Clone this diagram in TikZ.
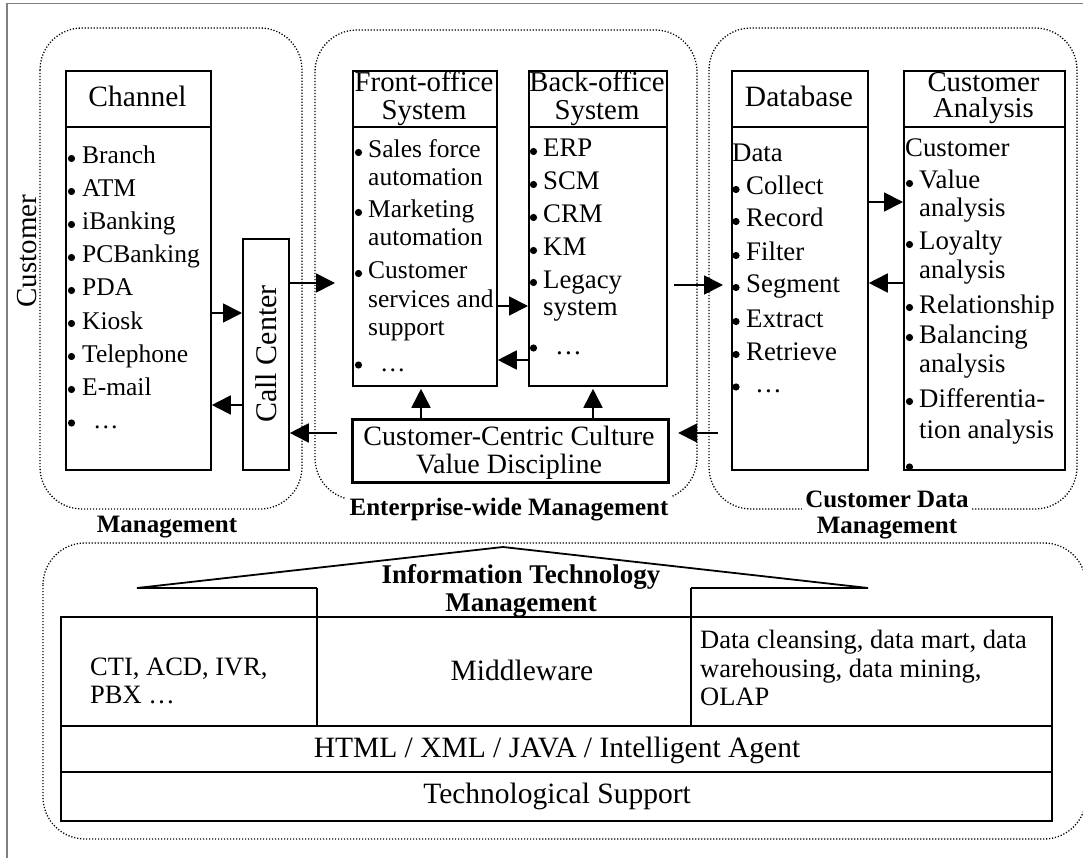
\documentclass[tikz,border=0pt]{standalone}
\usepackage{fontspec}
\setmainfont{Liberation Serif}
\usetikzlibrary{arrows.meta,calc}
\newcounter{tln}
\newcommand\mytl[4][itA]{\stepcounter{tln}\node[#1] (tl\arabic{tln}) at (#2,#3) {#4};}
\newcommand\mybu[2]{\fill (#1,#2) circle (3.6pt);}
\begin{document}
\begin{tikzpicture}[x=1pt,y=-1pt,
 box/.style={draw, line width=1.8pt, inner sep=0pt, anchor=north west},
 dotbox/.style={draw, line width=1.3pt, dash pattern=on 1.2pt off 1.8pt, rounded corners=42pt},
 arr/.style={line width=1.8pt, -{Triangle[length=19pt,width=19pt]}},
 itA/.style={anchor=base west, inner sep=0pt, font=\fontsize{25.5}{30}\selectfont},
 itB/.style={anchor=base west, inner sep=0pt, font=\fontsize{26.8}{30}\selectfont},
 hd/.style={anchor=base, inner sep=0pt, font=\fontsize{29.5}{30}\selectfont},
 hdb/.style={anchor=base, inner sep=0pt, font=\fontsize{28.8}{30}\selectfont},
 lab/.style={anchor=base, inner sep=3pt, fill=white, font=\bfseries\fontsize{25}{26}\selectfont},
 cell/.style={anchor=base west, inner sep=0pt, font=\fontsize{26.5}{28}\selectfont},
 row/.style={anchor=base, inner sep=0pt, font=\fontsize{29.5}{30}\selectfont},
 frame/.style={draw=black!50, line width=1.8pt}]
\useasboundingbox (0,0) rectangle (1083,858);
% frame
\draw[frame] (7,858) -- (7,3.5) -- (1083,3.5);
% dotted groups
\draw[dotbox] (40,28) rectangle (302,509);
\draw[dotbox] (315,30) rectangle (697,500);
\draw[dotbox] (709,28) rectangle (1077,509);
\draw[dotbox] (43,543) rectangle (1086,839);
\coordinate (rbx) at (718,433);
% boxes
\node[box, minimum width=145pt, minimum height=399pt] (ch) at (65,70) {};
\node[box, minimum width=46pt, minimum height=231pt] (cc) at (242,238) {};
\node[box, minimum width=144pt, minimum height=315pt] (fo) at (352,70) {};
\node[box, minimum width=138pt, minimum height=315pt] (bo) at (528,70) {};
\node[box, line width=3.2pt, minimum width=316pt, minimum height=63pt] (cul) at (351,418) {};
\node[box, minimum width=136pt, minimum height=399pt] (db) at (731,70) {};
\node[box, minimum width=161pt, minimum height=399pt] (ca) at (903,70) {};
\foreach \b in {ch,fo,bo,db,ca}
  \draw[line width=1.8pt] (\b.north west |- 0,127) -- (\b.north east |- 0,127);
% headers
\node[hd] (hch) at (137.5,107) {Channel};
\node[hdb] (hfo1) at (424,92) {Front-office};
\node[hdb] (hfo2) at (424,120) {System};
\node[hdb] (hbo1) at (597,92) {Back-office};
\node[hdb] (hbo2) at (597,120) {System};
\node[hd] (hdb) at (799,107) {Database};
\node[hdb] (hca1) at (983.5,92) {Customer};
\node[hdb] (hca2) at (983.5,118) {Analysis};
\node[inner sep=0pt, rotate=90, font=\fontsize{30}{30}\selectfont] (cct) at (cc.center |- 0,354) {Call Center};
\node[inner sep=0pt, rotate=90, font=\fontsize{29}{30}\selectfont] (cust) at (27,251) {Customer};
% Channel list
\foreach \t/\y in {Branch/164,ATM/197,iBanking/230,PCBanking/263,PDA/296,Kiosk/329,Telephone/362,E-mail/395}{
  \mybu{71.5}{\y-5.5}
  \node[itA] (c\y) at (82,\y) {\t};}
\mybu{71.5}{423}
\mytl{93}{428}{\ldots}
% Front-office list
\mybu{358.5}{152.5}\mytl{368}{158}{Sales force}
\mytl{368}{186}{automation}
\mybu{358.5}{212.5}\mytl{368}{218}{Marketing}
\mytl{368}{246}{automation}
\mybu{358.5}{273.5}\mytl{368}{279}{Customer}
\mytl{368}{307}{services and}
\mytl{368}{335}{support}
\mybu{358.5}{365}\mytl{380}{371}{\ldots}
% Back-office list
\foreach \t/\y in {ERP/157,SCM/190,CRM/223,KM/256,Legacy/288}{
  \mybu{533.5}{\y-5.5}
  \node[itB] (b\y) at (543,\y) {\t};}
\mytl[itB]{543}{316}{system}
\mybu{533.5}{348}\mytl[itB]{555}{354}{\ldots}
% Database list
\mytl[itB]{732}{162}{Data}
\foreach \t/\y in {Collect/195,Record/227,Filter/261,Segment/293,Extract/327,Retrieve/360}{
  \mybu{736}{\y-5.5}
  \node[itB] (d\y) at (746,\y) {\t};}
\mybu{736}{387}\mytl[itB]{755}{392}{\ldots}
% Customer analysis list
\mytl[itB]{905}{157}{Customer}
\mybu{909.5}{183.5}\mytl[itB]{919}{189}{Value}
\mytl[itB]{919}{217}{analysis}
\mybu{909.5}{244.5}\mytl[itB]{919}{250}{Loyalty}
\mytl[itB]{919}{279}{analysis}
\mybu{909.5}{307.5}\mytl[itB]{919}{313}{Relationship}
\mybu{909.5}{337.5}\mytl[itB]{919}{343}{Balancing}
\mytl[itB]{919}{372}{analysis}
\mybu{909.5}{401.5}\mytl[itB]{919}{407}{Differentia-}
\mytl[itB]{919}{438}{tion analysis}
\begin{scope}
  \clip (903,440) rectangle (1064,469);
  \fill (909.5,467) circle (3.6pt);
\end{scope}
% culture text
\node[anchor=base, inner sep=0pt, font=\fontsize{28}{28}\selectfont] (cu1) at (509,445) {Customer-Centric Culture};
\node[anchor=base, inner sep=0pt, font=\fontsize{28}{28}\selectfont] (cu2) at (509,473) {Value Discipline};
% group labels
\node[lab, inner xsep=4pt] (lent) at (509,515) {Enterprise-wide Management};
\node[lab] (lcm) at (167,532) {Management};
\node[lab] (lcd1) at (887,507) {Customer Data};
\node[lab, fill=none] (lcd2) at (887,533) {Management};
% arrows
\draw[arr] (ch.east |- 0,313) -- (cc.west |- 0,313);
\draw[arr] (cc.west |- 0,405) -- (ch.east |- 0,405);
\draw[arr] (cc.east |- 0,283) -- ($(fo.west |- 0,283)+(-17,0)$);
\draw[arr] (fo.east |- 0,306) -- (bo.west |- 0,306);
\draw[arr] (bo.west |- 0,360) -- (fo.east |- 0,360);
\draw[arr] (cul.north -| 421,0) -- ($(fo.south -| 421,0)+(0,2)$);
\draw[arr] (cul.north -| 593,0) -- ($(bo.south -| 593,0)+(0,2)$);
\draw[arr] ($(cul.west |- 0,433)+(-14,0)$) -- (cc.east |- 0,433);
\draw[arr] ($(bo.east |- 0,285)+(6,0)$) -- ($(db.west |- 0,285)+(-8,0)$);
\draw[arr] (db.east |- 0,202) -- (ca.west |- 0,202);
\draw[arr] (ca.west |- 0,283) -- (db.east |- 0,283);
\draw[arr] (rbx) -- ($(cul.east |- 0,433)+(8,0)$);
% IT section
\node[anchor=base, inner sep=0pt, font=\bfseries\fontsize{27}{27}\selectfont] (it1) at (521,583) {Information Technology};
\node[anchor=base, inner sep=0pt, font=\bfseries\fontsize{27}{27}\selectfont] (it2) at (521,611) {Management};
\draw[line width=1.8pt] (317,588) -- (137,588) -- (503,547) -- (868,588) -- (691,588);
\draw[line width=1.2pt] (317,588) -- (317,726);
\draw[line width=1.2pt] (691,588) -- (691,726);
\draw[line width=1.8pt] (61,617) rectangle (1052,821);
\draw[line width=1.8pt] (61,726) -- (1052,726);
\draw[line width=1.8pt] (61,772) -- (1052,772);
\node[cell] (cti1) at (90,675) {CTI, ACD, IVR,};
\node[cell] (cti2) at (90,703) {PBX \ldots};
\node[row] (mw) at (522,680) {Middleware};
\node[cell] (dc1) at (700,648) {Data cleansing, data mart, data};
\node[cell] (dc2) at (700,677) {warehousing, data mining,};
\node[cell] (dc3) at (700,705) {OLAP};
\node[row] (html) at (557,757) {HTML / XML / JAVA / Intelligent Agent};
\node[row] (ts) at (557,803) {Technological Support};
\end{tikzpicture}
\end{document}
